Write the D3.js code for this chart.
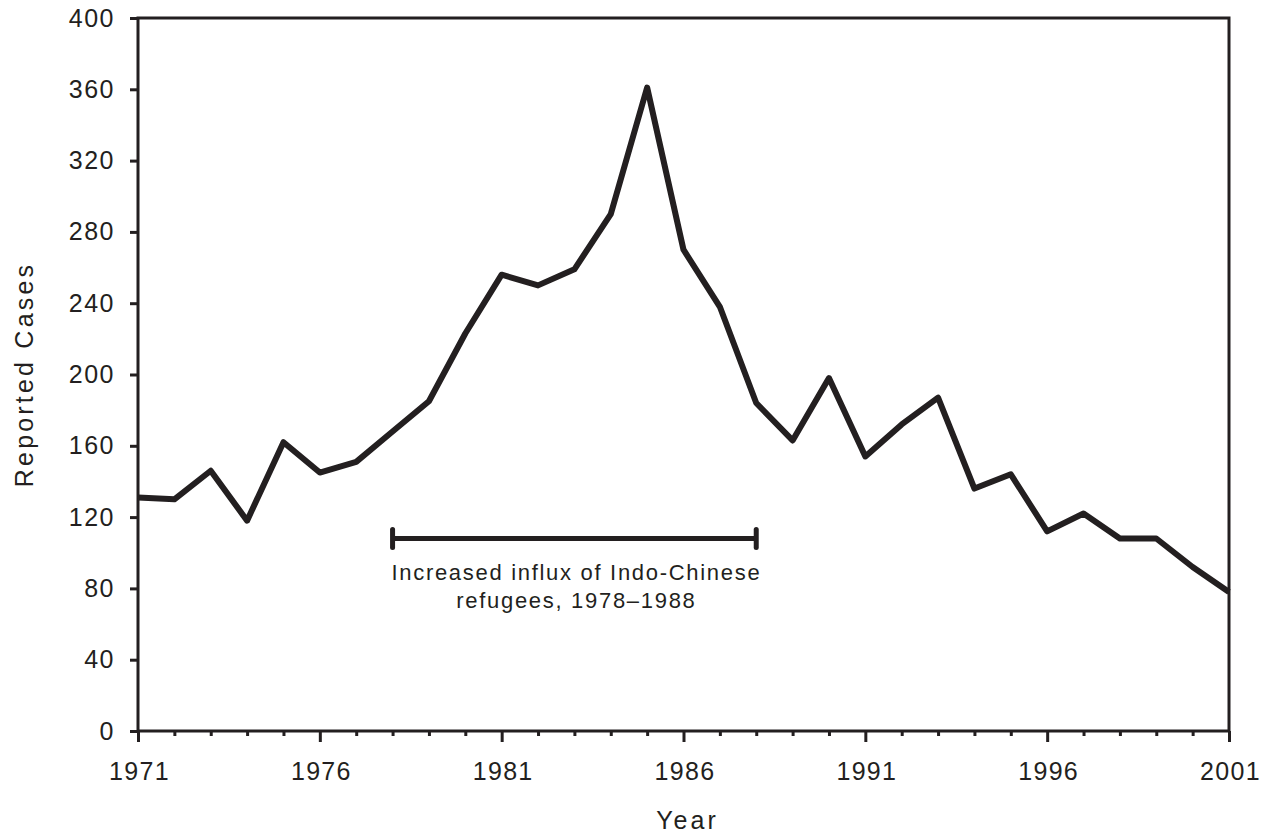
<!DOCTYPE html>
<html>
<head>
<meta charset="utf-8">
<script src="https://cdn.jsdelivr.net/npm/d3@7"></script>
<style>
  body { margin: 0; background: #fff; }
  svg text { font-family: "Liberation Sans", Arial, sans-serif; fill: #231f20; }
</style>
</head>
<body>
<svg id="viz"></svg>
<script>
const years = d3.range(1971, 2002);
const cases = [131, 130, 146, 118, 162, 145, 151, 168, 185, 223,
               256, 250, 259, 290, 361, 270, 238, 184, 163, 198,
               154, 172, 187, 136, 144, 112, 122, 108, 108, 92, 78];
const yTicks = [0, 40, 80, 120, 160, 200, 240, 280, 320, 360, 400];
const xMajor = [1971, 1976, 1981, 1986, 1991, 1996, 2001];
const bracket = { from: 1978, to: 1988, level: 108 };
const note = ["Increased influx of Indo-Chinese", "refugees, 1978\u20131988"];

const width = 1266, height = 837;
const margin = { top: 18, right: 37, bottom: 106, left: 138 };
const ink = "#231f20";

const x = d3.scaleLinear()
    .domain([1971, 2001])
    .range([margin.left, width - margin.right]);

const y = d3.scaleLinear()
    .domain([0, 400])
    .range([height - margin.bottom, margin.top]);

const svg = d3.select("#viz")
    .attr("width", width)
    .attr("height", height)
    .attr("viewBox", [0, 0, width, height]);

// frame (top and right)
svg.append("rect")
    .attr("x", margin.left)
    .attr("y", margin.top)
    .attr("width", x(2001) - x(1971))
    .attr("height", y(0) - y(400))
    .attr("fill", "none")
    .attr("stroke", ink)
    .attr("stroke-width", 3);

// y axis
const yAxis = svg.append("g")
    .attr("transform", `translate(${margin.left},0)`)
    .call(d3.axisLeft(y).tickValues(yTicks).tickSize(8).tickPadding(15));
yAxis.select(".domain").remove();
yAxis.selectAll("line").attr("stroke", ink).attr("stroke-width", 3);
yAxis.selectAll("text").attr("font-size", 25).attr("letter-spacing", 1.5).attr("fill", ink);

// x axis minor ticks
const xMinor = svg.append("g")
    .attr("transform", `translate(0,${y(0)})`)
    .call(d3.axisBottom(x).tickValues(years.filter(d => !xMajor.includes(d))).tickSize(5).tickFormat(""));
xMinor.select(".domain").remove();
xMinor.selectAll("line").attr("stroke", ink).attr("stroke-width", 3);

// x axis major ticks
const xAxis = svg.append("g")
    .attr("transform", `translate(0,${y(0)})`)
    .call(d3.axisBottom(x).tickValues(xMajor).tickSize(11).tickPadding(20).tickFormat(d3.format("d")));
xAxis.select(".domain").remove();
xAxis.selectAll("line").attr("stroke", ink).attr("stroke-width", 3);
xAxis.selectAll("text").attr("font-size", 25).attr("letter-spacing", 1.3).attr("dx", 1).attr("fill", ink);

// axis titles
svg.append("text")
    .attr("transform", `translate(33,${(y(0) + y(400)) / 2}) rotate(-90)`)
    .attr("text-anchor", "middle")
    .attr("font-size", 25)
    .attr("letter-spacing", 3.2)
    .text("Reported Cases");

svg.append("text")
    .attr("x", (x(1971) + x(2001)) / 2 + 4)
    .attr("y", 829)
    .attr("text-anchor", "middle")
    .attr("font-size", 25)
    .attr("letter-spacing", 3)
    .text("Year");

// data line
const line = d3.line()
    .x((d, i) => x(years[i]))
    .y(d => y(d));

svg.append("path")
    .datum(cases)
    .attr("fill", "none")
    .attr("stroke", ink)
    .attr("stroke-width", 6)
    .attr("stroke-linejoin", "round")
    .attr("d", line);

// bracket annotation
const by = y(bracket.level);
svg.append("line")
    .attr("x1", x(bracket.from)).attr("x2", x(bracket.to))
    .attr("y1", by).attr("y2", by)
    .attr("stroke", ink).attr("stroke-width", 5);
svg.selectAll(".cap")
    .data([bracket.from, bracket.to])
    .join("line")
    .attr("class", "cap")
    .attr("x1", d => x(d)).attr("x2", d => x(d))
    .attr("y1", by - 9).attr("y2", by + 9)
    .attr("stroke", ink).attr("stroke-width", 5)
    .attr("stroke-linecap", "round");

const cx = (x(bracket.from) + x(bracket.to)) / 2 + 2;
svg.append("text")
    .attr("y", by + 42)
    .attr("text-anchor", "middle")
    .attr("font-size", 22)
    .attr("letter-spacing", 1.7)
    .selectAll("tspan")
    .data(note)
    .join("tspan")
    .attr("x", cx)
    .attr("dy", (d, i) => i === 0 ? 0 : 28)
    .text(d => d);
</script>
</body>
</html>
